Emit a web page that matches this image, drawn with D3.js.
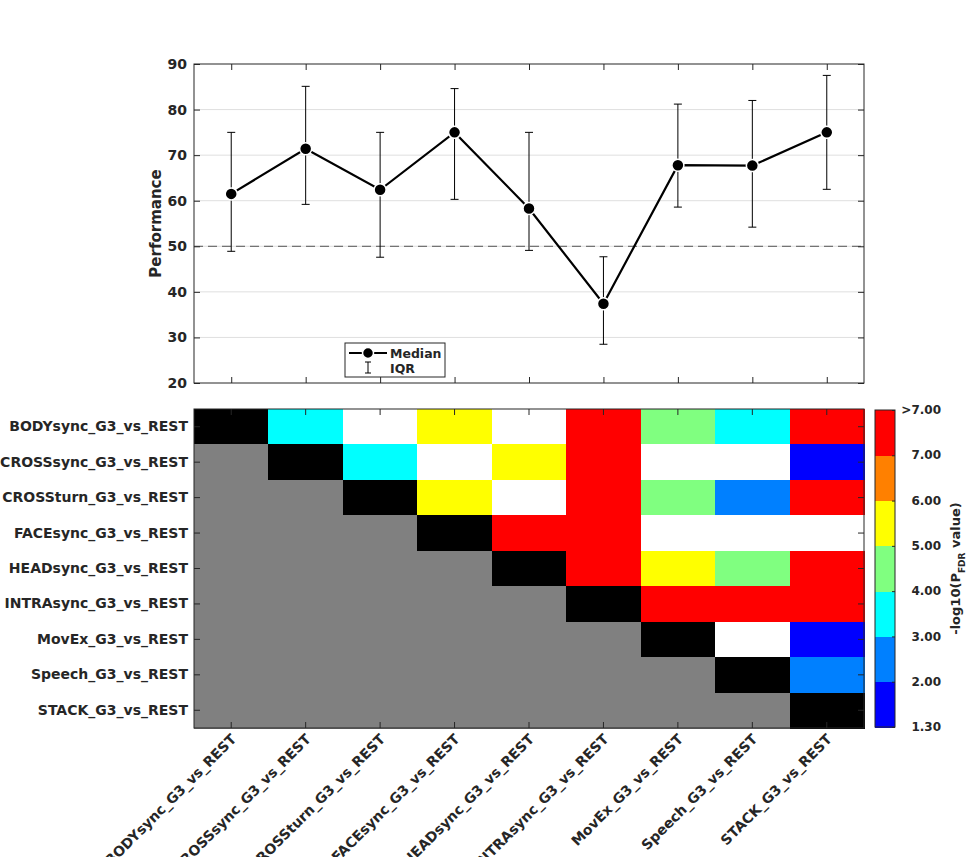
<!DOCTYPE html>
<html>
<head>
<meta charset="utf-8">
<script src="https://cdn.jsdelivr.net/npm/d3@7"></script>
<style>
  body { margin: 0; background: #fff; }
  svg { display: block; font-family: "DejaVu Sans", sans-serif; font-weight: bold; }
</style>
</head>
<body>
<svg id="chart" width="970" height="857"></svg>
<script>
// conditions (same order on both panels)
const conditions = [
  'BODYsync_G3_vs_REST', 'CROSSsync_G3_vs_REST', 'CROSSturn_G3_vs_REST',
  'FACEsync_G3_vs_REST', 'HEADsync_G3_vs_REST', 'INTRAsync_G3_vs_REST',
  'MovEx_G3_vs_REST', 'Speech_G3_vs_REST', 'STACK_G3_vs_REST'
];

// performance: median and interquartile range
const medians = [61.5, 71.4, 62.4, 75.0, 58.3, 37.4, 67.8, 67.7, 75.0];
const q1 = [48.9, 59.2, 47.6, 60.3, 49.1, 28.5, 58.6, 54.2, 62.5];
const q3 = [75.0, 85.1, 75.0, 84.6, 75.0, 47.7, 81.2, 82.0, 87.5];
const chanceLevel = 50;
const perfTicks = [20, 30, 40, 50, 60, 70, 80, 90];

// pairwise -log10(P_FDR); null = lower triangle / diagonal, < 1.3 = n.s.
const pairwise = [
  [null, 3.5, 0.8, 5.5, 0.8, 8.0, 4.5, 3.5, 8.0],
  [null, null, 3.5, 0.8, 5.5, 8.0, 0.8, 0.8, 1.6],
  [null, null, null, 5.5, 0.8, 8.0, 4.5, 2.5, 8.0],
  [null, null, null, null, 8.0, 8.0, 0.8, 0.8, 0.8],
  [null, null, null, null, null, 8.0, 5.5, 4.5, 8.0],
  [null, null, null, null, null, null, 8.0, 8.0, 8.0],
  [null, null, null, null, null, null, null, 0.8, 1.6],
  [null, null, null, null, null, null, null, null, 2.5],
  [null, null, null, null, null, null, null, null, null]
];

// colour bins
const binEdges = [1.3, 2, 3, 4, 5, 6, 7];
const binColors = ['#ffffff', '#0000ff', '#0080ff', '#00ffff', '#80ff80', '#ffff00', '#ff8000', '#ff0000'];
const cbarLabels = ['1.30', '2.00', '3.00', '4.00', '5.00', '6.00', '7.00', '>7.00'];

const axisColor = '#262626';
const svg = d3.select('#chart');

// ---------------------------------------------------------
// top panel: performance
// ---------------------------------------------------------
const perf = { left: 194, right: 864, top: 64, bottom: 383 };

const x = d3.scaleLinear().domain([0.5, conditions.length + 0.5]).range([perf.left, perf.right]);
const y = d3.scaleLinear().domain([20, 90]).range([perf.bottom, perf.top]);
const idx = d3.range(1, conditions.length + 1);

const gTop = svg.append('g');

// horizontal grid
gTop.selectAll('line.grid')
  .data(perfTicks.slice(1, -1))
  .enter().append('line')
  .attr('x1', perf.left).attr('x2', perf.right)
  .attr('y1', d => y(d)).attr('y2', d => y(d))
  .attr('stroke', '#dfdfdf').attr('stroke-width', 1);

// chance level
gTop.append('line')
  .attr('x1', perf.left).attr('x2', perf.right)
  .attr('y1', y(chanceLevel)).attr('y2', y(chanceLevel))
  .attr('stroke', '#555').attr('stroke-width', 1)
  .attr('stroke-dasharray', '9,5');

function styleAxis(g) {
  g.select('.domain').remove();
  g.selectAll('line').attr('stroke', axisColor);
  g.selectAll('text').attr('fill', axisColor).style('font-size', '14px').style('font-weight', 'bold')
    .style('font-family', '"DejaVu Sans", sans-serif');
}

gTop.append('g').attr('transform', `translate(${perf.left},0)`)
  .call(d3.axisLeft(y).tickValues(perfTicks).tickFormat(d3.format('d')).tickSizeInner(-6).tickSizeOuter(0).tickPadding(7))
  .call(styleAxis);
gTop.append('g').attr('transform', `translate(${perf.right},0)`)
  .call(d3.axisRight(y).tickValues(perfTicks).tickFormat('').tickSizeInner(-6).tickSizeOuter(0))
  .call(styleAxis);
gTop.append('g').attr('transform', `translate(0,${perf.bottom})`)
  .call(d3.axisBottom(x).tickValues(idx).tickFormat('').tickSizeInner(-6).tickSizeOuter(0))
  .call(styleAxis);
gTop.append('g').attr('transform', `translate(0,${perf.top})`)
  .call(d3.axisTop(x).tickValues(idx).tickFormat('').tickSizeInner(-6).tickSizeOuter(0))
  .call(styleAxis);

gTop.append('rect')
  .attr('x', perf.left).attr('y', perf.top)
  .attr('width', perf.right - perf.left).attr('height', perf.bottom - perf.top)
  .attr('fill', 'none').attr('stroke', axisColor).attr('stroke-width', 1);

gTop.append('text')
  .attr('transform', `translate(161,${(perf.top + perf.bottom) / 2}) rotate(-90)`)
  .attr('text-anchor', 'middle')
  .attr('fill', axisColor)
  .style('font-size', '15px')
  .text('Performance');

// error bars (IQR)
const capW = 4;
const eb = gTop.selectAll('g.eb').data(idx).enter().append('g')
  .attr('stroke', '#000').attr('stroke-width', 1);
eb.append('line')
  .attr('x1', d => x(d)).attr('x2', d => x(d))
  .attr('y1', d => y(q1[d - 1])).attr('y2', d => y(q3[d - 1]));
eb.append('line')
  .attr('x1', d => x(d) - capW).attr('x2', d => x(d) + capW)
  .attr('y1', d => y(q1[d - 1])).attr('y2', d => y(q1[d - 1]));
eb.append('line')
  .attr('x1', d => x(d) - capW).attr('x2', d => x(d) + capW)
  .attr('y1', d => y(q3[d - 1])).attr('y2', d => y(q3[d - 1]));

// median line + markers
const line = d3.line().x(d => x(d)).y(d => y(medians[d - 1]));
gTop.append('path')
  .datum(idx)
  .attr('d', line)
  .attr('fill', 'none').attr('stroke', '#000').attr('stroke-width', 2.2);

gTop.selectAll('circle.med')
  .data(idx)
  .enter().append('circle')
  .attr('cx', d => x(d)).attr('cy', d => y(medians[d - 1]))
  .attr('r', 6)
  .attr('fill', '#000').attr('stroke', '#fff').attr('stroke-width', 1.5);

// legend
const leg = gTop.append('g').attr('transform', 'translate(345,343)');
leg.append('rect')
  .attr('width', 100).attr('height', 34)
  .attr('fill', '#fff').attr('stroke', axisColor).attr('stroke-width', 1);
leg.append('line')
  .attr('x1', 4).attr('x2', 42).attr('y1', 10).attr('y2', 10)
  .attr('stroke', '#000').attr('stroke-width', 2.2);
leg.append('circle')
  .attr('cx', 23).attr('cy', 10).attr('r', 5.5)
  .attr('fill', '#000').attr('stroke', '#fff').attr('stroke-width', 1.5);
leg.append('line').attr('x1', 23).attr('x2', 23).attr('y1', 19).attr('y2', 30).attr('stroke', '#000');
leg.append('line').attr('x1', 20).attr('x2', 26).attr('y1', 19).attr('y2', 19).attr('stroke', '#000');
leg.append('line').attr('x1', 20).attr('x2', 26).attr('y1', 30).attr('y2', 30).attr('stroke', '#000');
leg.append('text').attr('x', 45).attr('y', 14.5).attr('fill', axisColor).style('font-size', '12.5px').text('Median');
leg.append('text').attr('x', 45).attr('y', 30).attr('fill', axisColor).style('font-size', '12.5px').text('IQR');

// ---------------------------------------------------------
// bottom panel: pairwise significance matrix
// ---------------------------------------------------------
const hm = { left: 194, right: 864, top: 409, bottom: 728 };

const cx = d3.scaleBand().domain(d3.range(conditions.length)).range([hm.left, hm.right]);
const cy = d3.scaleBand().domain(d3.range(conditions.length)).range([hm.top, hm.bottom]);
const color = d3.scaleThreshold().domain(binEdges).range(binColors);

const cells = [];
pairwise.forEach((row, i) => row.forEach((v, j) => cells.push({ i, j, v })));

const gHm = svg.append('g');
gHm.selectAll('rect.cell')
  .data(cells)
  .enter().append('rect')
  .attr('x', d => cx(d.j)).attr('y', d => cy(d.i))
  .attr('width', cx.bandwidth() + 0.5).attr('height', cy.bandwidth() + 0.5)
  .attr('fill', d => d.j < d.i ? '#808080' : d.j === d.i ? '#000000' : color(d.v))
  .attr('shape-rendering', 'crispEdges');

const rowLabel = d3.scaleBand().domain(conditions).range([hm.top, hm.bottom]);
const colLabel = d3.scaleBand().domain(conditions).range([hm.left, hm.right]);

gHm.append('g').attr('transform', `translate(${hm.left},0)`)
  .call(d3.axisLeft(rowLabel).tickSizeInner(-6).tickSizeOuter(0).tickPadding(6))
  .call(styleAxis);
gHm.append('g').attr('transform', `translate(${hm.right},0)`)
  .call(d3.axisRight(rowLabel).tickFormat('').tickSizeInner(-6).tickSizeOuter(0))
  .call(styleAxis);
gHm.append('g').attr('transform', `translate(0,${hm.top})`)
  .call(d3.axisTop(colLabel).tickFormat('').tickSizeInner(-6).tickSizeOuter(0))
  .call(styleAxis);

const xb = gHm.append('g').attr('transform', `translate(0,${hm.bottom})`)
  .call(d3.axisBottom(colLabel).tickSizeInner(-6).tickSizeOuter(0).tickPadding(0))
  .call(styleAxis);
xb.selectAll('text')
  .attr('text-anchor', 'end')
  .attr('dy', null)
  .attr('y', 0)
  .attr('transform', 'translate(6,12) rotate(-45)');

gHm.append('rect')
  .attr('x', hm.left).attr('y', hm.top)
  .attr('width', hm.right - hm.left).attr('height', hm.bottom - hm.top)
  .attr('fill', 'none').attr('stroke', axisColor).attr('stroke-width', 1);

// colour bar
const cb = { left: 875, right: 895, top: 410, bottom: 727 };
const cbY = d3.scaleLinear().domain([0, binColors.length - 1]).range([cb.bottom, cb.top]);

const gCb = svg.append('g');
gCb.selectAll('rect.bin')
  .data(binColors.slice(1))
  .enter().append('rect')
  .attr('x', cb.left).attr('width', cb.right - cb.left)
  .attr('y', (d, k) => cbY(k + 1)).attr('height', (d, k) => cbY(k) - cbY(k + 1) + 0.5)
  .attr('fill', d => d)
  .attr('shape-rendering', 'crispEdges');

gCb.append('g').attr('transform', `translate(${cb.right},0)`)
  .call(d3.axisRight(cbY).tickValues(d3.range(binColors.length)).tickFormat('').tickSizeInner(-3).tickSizeOuter(0))
  .call(styleAxis);

gCb.append('rect')
  .attr('x', cb.left).attr('y', cb.top)
  .attr('width', cb.right - cb.left).attr('height', cb.bottom - cb.top)
  .attr('fill', 'none').attr('stroke', axisColor).attr('stroke-width', 1);

gCb.selectAll('text.cbl')
  .data(cbarLabels)
  .enter().append('text')
  .attr('x', 941)
  .attr('y', (d, k) => cbY(k))
  .attr('dy', '0.35em')
  .attr('text-anchor', 'end')
  .attr('fill', axisColor)
  .style('font-size', '12px')
  .text(d => d);

const cbTitle = gCb.append('text')
  .attr('transform', `translate(960,${(cb.top + cb.bottom) / 2}) rotate(-90)`)
  .attr('text-anchor', 'middle')
  .attr('fill', axisColor)
  .style('font-size', '13px');
cbTitle.append('tspan').text('-log10(P');
cbTitle.append('tspan').attr('baseline-shift', 'sub').style('font-size', '9px').text('FDR');
cbTitle.append('tspan').text(' value)');
</script>
</body>
</html>
